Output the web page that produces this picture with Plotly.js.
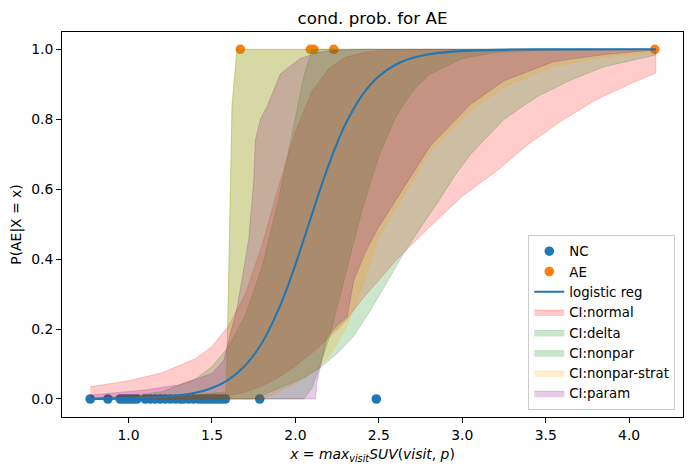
<!DOCTYPE html>
<html>
<head>
<meta charset="utf-8">
<script src="https://cdn.plot.ly/plotly-3.0.1.min.js"></script>
<style>html,body{margin:0;padding:0;background:#fff;}#chart{width:691px;height:474px;}</style>
</head>
<body>
<div id="chart"></div>
<script>
// ---- data ----
const ncX = [0.770, 0.876, 0.950, 0.970, 0.990, 1.010, 1.030, 1.050, 1.100, 1.130, 1.160, 1.190, 1.220, 1.250, 1.280, 1.310, 1.330, 1.360, 1.390, 1.420, 1.440, 1.460, 1.480, 1.500, 1.520, 1.540, 1.560, 1.580, 1.786, 2.485];
const ncY = [0,0,0,0,0,0,0,0,0,0,0,0,0,0,0,0,0,0,0,0,0,0,0,0,0,0,0,0,0,0];
const aeX = [1.670, 2.090, 2.110, 2.230, 4.154];
const aeY = [1, 1, 1, 1, 1];

const logX = [0.77, 1.0, 1.2, 1.4, 1.5, 1.6, 1.7, 1.8, 1.9, 1.95, 2.0, 2.05, 2.1, 2.15, 2.2, 2.25, 2.3, 2.4, 2.5, 2.6, 2.7, 2.8, 3.0, 3.3, 3.6, 4.16];
const logY = [0.0004, 0.0017, 0.0055, 0.0178, 0.0317, 0.0557, 0.0962, 0.161, 0.257, 0.317, 0.384, 0.456, 0.529, 0.602, 0.670, 0.732, 0.786, 0.869, 0.923, 0.956, 0.975, 0.986, 0.9956, 0.9993, 0.9999, 1.0];

const normX  = [0.77, 1.0, 1.2, 1.4, 1.5, 1.6, 1.7, 1.8, 1.9, 2.0, 2.1, 2.2, 2.3, 2.4, 2.5, 2.6, 2.8, 3.0, 3.2, 3.4, 3.6, 3.8, 4.0, 4.16];
const normLo = [0, 0, 0.0003, 0.002, 0.0044, 0.01, 0.02, 0.037, 0.062, 0.094, 0.132, 0.175, 0.223, 0.285, 0.34, 0.395, 0.49, 0.58, 0.65, 0.73, 0.797, 0.855, 0.9, 0.932];
const normHi = [0.035, 0.052, 0.075, 0.115, 0.15, 0.21, 0.30, 0.44, 0.61, 0.765, 0.88, 0.945, 0.977, 0.99, 0.996, 0.998, 0.9997, 1, 1, 1, 1, 1, 1, 1];

const deltaX  = [0.77, 1.0, 1.2, 1.4, 1.5, 1.6, 1.7, 1.8, 1.9, 1.95, 2.0, 2.05, 2.1, 2.2, 2.3, 2.4, 2.5, 2.6, 2.7, 2.8, 3.0, 3.2, 3.5, 4.16];
const deltaLo = [0, 0, 0, 0, 0, 0, 0, 0, 0, 0, 0, 0, 0.031, 0.17, 0.357, 0.542, 0.695, 0.806, 0.879, 0.927, 0.974, 0.991, 0.998, 1.0];
const deltaHi = [0.0023, 0.0078, 0.021, 0.057, 0.093, 0.15, 0.24, 0.377, 0.572, 0.687, 0.81, 0.922, 1, 1, 1, 1, 1, 1, 1, 1, 1, 1, 1, 1];

const npX  = [0.77, 1.0, 1.2, 1.4, 1.5, 1.585, 1.596, 1.62, 1.65, 1.75, 1.85, 1.95, 2.05, 2.15, 2.25, 2.35, 2.45, 2.55, 2.65, 2.75, 2.85, 2.95, 3.05, 3.25, 3.45, 3.65, 3.85, 4.16];
const npLo = [0, 0, 0, 0, 0, 0, 0, 0, 0, 0, 0.02, 0.04, 0.06, 0.09, 0.13, 0.18, 0.254, 0.335, 0.417, 0.49, 0.56, 0.635, 0.70, 0.80, 0.865, 0.912, 0.95, 0.984];
const npHi = [0.003, 0.005, 0.008, 0.012, 0.016, 0.02, 0.26, 0.84, 1, 1, 1, 1, 1, 1, 1, 1, 1, 1, 1, 1, 1, 1, 1, 1, 1, 1, 1, 1];

const nsX  = [0.77, 1.0, 1.2, 1.4, 1.5, 1.585, 1.596, 1.62, 1.65, 1.8, 1.9, 2.0, 2.1, 2.2, 2.3, 2.4, 2.49, 2.65, 2.81, 3.05, 3.25, 3.55, 3.85, 4.16];
const nsLo = [0, 0, 0, 0, 0, 0, 0, 0, 0, 0, 0.02, 0.045, 0.075, 0.12, 0.2, 0.32, 0.455, 0.585, 0.708, 0.825, 0.893, 0.952, 0.978, 0.99];
const nsHi = [0.003, 0.005, 0.008, 0.012, 0.016, 0.02, 0.26, 0.84, 1, 1, 1, 1, 1, 1, 1, 1, 1, 1, 1, 1, 1, 1, 1, 1];

const pmX  = [0.77, 1.1, 1.3, 1.5, 1.57, 1.62, 1.65, 1.72, 1.75, 1.76, 1.79, 1.83, 1.91, 2.03, 2.12, 2.13, 2.19, 2.25, 2.31, 2.35, 2.42, 2.49, 2.65, 2.81, 3.05, 3.25, 3.55, 3.85, 4.16];
const pmLo = [0, 0, 0, 0, 0, 0, 0, 0, 0, 0, 0, 0, 0, 0, 0, 0.05, 0.178, 0.21, 0.235, 0.34, 0.42, 0.485, 0.603, 0.725, 0.843, 0.91, 0.965, 0.985, 0.998];
const pmHi = [0.011, 0.026, 0.04, 0.073, 0.11, 0.2, 0.26, 0.455, 0.626, 0.74, 0.8, 0.836, 0.93, 0.974, 0.99, 0.99, 0.995, 0.997, 0.998, 0.999, 1, 1, 1, 1, 1, 1, 1, 1, 1];

const xTicks = [1.0, 1.5, 2.0, 2.5, 3.0, 3.5, 4.0];
const yTicks = [0.0, 0.2, 0.4, 0.6, 0.8, 1.0];

// ---- build ----
function band(xs, lo, hi, name, rgb, rank) {
  return {
    type: 'scatter', mode: 'lines', name: name,
    x: xs.concat(xs.slice().reverse()),
    y: hi.concat(lo.slice().reverse()),
    fill: 'toself',
    fillcolor: 'rgba(' + rgb + ',0.2)',
    line: {color: 'rgba(' + rgb + ',0.2)', width: 1},
    hoverinfo: 'skip', legendrank: rank
  };
}
const font = 'DejaVu Sans, Liberation Sans, sans-serif';
const traces = [
  {type: 'scatter', mode: 'markers', name: 'NC', x: ncX, y: ncY,
   marker: {color: '#1f77b4', size: 9.6}, legendrank: 1},
  {type: 'scatter', mode: 'markers', name: 'AE', x: aeX, y: aeY,
   marker: {color: '#ff7f0e', size: 9.6}, legendrank: 2},
  band(normX, normLo, normHi, 'CI:normal', '255,0,0', 4),
  band(deltaX, deltaLo, deltaHi, 'CI:delta', '0,128,0', 5),
  band(npX, npLo, npHi, 'CI:nonpar', '0,128,0', 6),
  band(nsX, nsLo, nsHi, 'CI:nonpar-strat', '255,165,0', 7),
  band(pmX, pmLo, pmHi, 'CI:param', '128,0,128', 8),
  {type: 'scatter', mode: 'lines', name: 'logistic reg', x: logX, y: logY,
   line: {color: '#1f77b4', width: 2.1, shape: 'spline', smoothing: 0.8}, legendrank: 3}
];
const axisCommon = {
  showline: true, mirror: true, linecolor: '#000', linewidth: 1,
  ticks: 'outside', ticklen: 5, tickwidth: 1, tickcolor: '#000',
  showgrid: false, zeroline: false, tickformat: '.1f',
  tickfont: {family: font, size: 13.9, color: '#000'}
};
const layout = {
  width: 691, height: 474,
  margin: {l: 62, r: 8, t: 32, b: 57},
  paper_bgcolor: '#fff', plot_bgcolor: '#fff',
  font: {family: font, color: '#000'},
  title: {text: 'cond. prob. for AE', font: {family: font, size: 16.7, color: '#000'},
          x: 0.5, xref: 'paper', y: 1 - 18 / 474, yanchor: 'middle'},
  xaxis: Object.assign({}, axisCommon, {
    range: [0.601, 4.323], tickvals: xTicks,
    title: {text: '<i>x</i> = <i>max</i><sub><i>visit</i></sub><i>SUV</i>(<i>visit</i>, <i>p</i>)',
            font: {family: font, size: 13.9, color: '#000'}, standoff: 7}
  }),
  yaxis: Object.assign({}, axisCommon, {
    range: [-0.0515, 1.0495], tickvals: yTicks,
    title: {text: 'P(AE|X = x)', font: {family: font, size: 13.9, color: '#000'}, standoff: 6}
  }),
  showlegend: true,
  legend: {x: 0.9876, y: 0.018, xanchor: 'right', yanchor: 'bottom',
           bgcolor: 'rgba(255,255,255,0.8)', bordercolor: '#cccccc', borderwidth: 1,
           font: {family: font, size: 13.3, color: '#000'}, tracegroupgap: 0}
};
Plotly.newPlot('chart', traces, layout, {displayModeBar: false, staticPlot: true});
</script>
</body>
</html>
